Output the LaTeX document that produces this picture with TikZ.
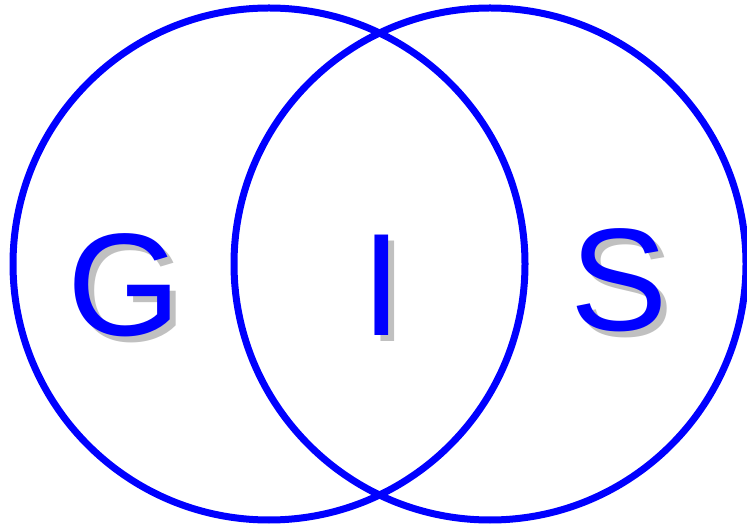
\documentclass[tikz,border=0pt]{standalone}
\usepackage{fontspec}
\setmainfont{Liberation Sans}
\usepackage{xcolor}
\usepackage{tikz}
\usetikzlibrary{positioning}
\definecolor{ringblue}{RGB}{0, 0, 255}
\definecolor{shadowgray}{RGB}{192, 192, 192}

\begin{document}
\begin{tikzpicture}[
    x=1pt, y=-1pt,
    ring/.style={draw=ringblue, line width=7pt},
    letter/.style={inner sep=0pt, anchor=base, text=ringblue, font=\fontsize{146}{146}\selectfont},
    shade/.style={letter, text=shadowgray}
]
\useasboundingbox (0,0) rectangle (747,526);

% Shadows
\node[shade] (gshadow) at (130.5,342) {G};
\node[shade] (ishadow) at (388,342) {I};
\node[shade] (sshadow) at (625,337) {S};

% Letters
\node[letter] (g) at (124.5,336) {G};
\node[letter] (i) at (382,336) {I};
\node[letter] (s) at (619,331) {S};

% Overlapping rings
\draw[ring] (269,264) circle (256);
\draw[ring] (490,264) circle (256);
\end{tikzpicture}
\end{document}
